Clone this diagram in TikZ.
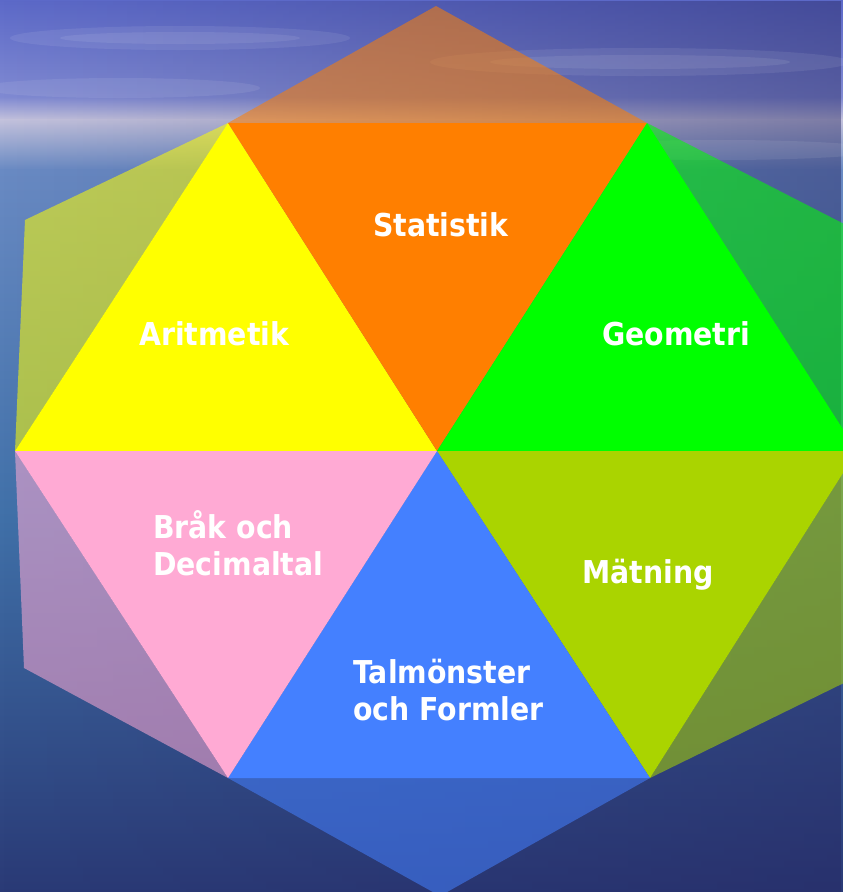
\documentclass[tikz,border=0pt]{standalone}
\usepackage{fontspec}
\usetikzlibrary{fadings}
\newfontfamily\labfont{DejaVu Sans}[FakeStretch=0.9]
\definecolor{skyA}{RGB}{92,105,200}
\definecolor{skyB}{RGB}{128,138,210}
\definecolor{hazeC}{RGB}{196,194,220}
\definecolor{seaA}{RGB}{105,138,195}
\definecolor{seaB}{RGB}{64,112,168}
\definecolor{seaC}{RGB}{42,58,118}
\definecolor{navyC}{RGB}{38,38,98}
\definecolor{orangeC}{RGB}{255,127,0}
\definecolor{yellowC}{RGB}{255,255,0}
\definecolor{greenC}{RGB}{0,255,0}
\definecolor{limeC}{RGB}{170,212,0}
\definecolor{blueC}{RGB}{68,128,255}
\definecolor{pinkC}{RGB}{255,170,212}
\begin{document}
\begin{tikzpicture}[x=1pt,y=-1pt,
  lab/.style={text=white,font=\labfont\bfseries\fontsize{31.5}{37.5}\selectfont,inner sep=0pt,align=left},
  innertri/.style={fill=#1},
  outertri/.style={fill=#1,fill opacity=0.55},
  cloud/.style={fill=white,fill opacity=0.08}]
\useasboundingbox (0,0) rectangle (843,892);
\clip (0,0) rectangle (843,892);
% background
\shade[top color=skyA, bottom color=skyB] (0,0) rectangle (843,98);
\shade[top color=skyB, bottom color=hazeC] (0,97) rectangle (843,120);
\shade[top color=hazeC, bottom color=seaA] (0,119) rectangle (843,170);
\shade[top color=seaA, bottom color=seaB] (0,169) rectangle (843,520);
\shade[top color=seaB, bottom color=seaC] (0,519) rectangle (843,892);
\fill[navyC, path fading=west, fill opacity=0.45] (0,0) rectangle (843,892);
\fill[cloud] (180,38) ellipse (170 and 12);
\fill[cloud] (180,38) ellipse (120 and 6);
\fill[cloud] (640,62) ellipse (210 and 14);
\fill[cloud] (640,62) ellipse (150 and 7);
\fill[cloud] (120,88) ellipse (140 and 10);
\fill[cloud] (720,150) ellipse (160 and 10);
% geometry
\coordinate (C) at (437,451);
\coordinate (TL) at (228,123);
\coordinate (TR) at (647,123);
\coordinate (R) at (857,451);
\coordinate (BR) at (650,778);
\coordinate (BL) at (228,778);
\coordinate (L) at (15,451);
\coordinate (O1) at (436,6);
\coordinate (O2) at (25,220);
\coordinate (O3) at (24,668);
\coordinate (O4) at (440,896);
\coordinate (O5) at (852,679);
\coordinate (O6) at (850,227);
% outer faded triangles
\fill[outertri=orangeC] (TL) -- (TR) -- (O1) -- cycle;
\fill[outertri=yellowC] (TL) -- (O2) -- (L) -- cycle;
\fill[outertri=pinkC] (L) -- (O3) -- (BL) -- cycle;
\fill[outertri=blueC] (BL) -- (O4) -- (BR) -- cycle;
\fill[outertri=limeC] (BR) -- (O5) -- (R) -- cycle;
\fill[outertri=greenC] (R) -- (O6) -- (TR) -- cycle;
% inner triangles
\fill[innertri=yellowC] (L) -- (TL) -- (C) -- cycle;
\fill[innertri=orangeC] (TL) -- (TR) -- (C) -- cycle;
\fill[innertri=greenC] (TR) -- (R) -- (C) -- cycle;
\fill[innertri=limeC] (R) -- (BR) -- (C) -- cycle;
\fill[innertri=blueC] (BR) -- (BL) -- (C) -- cycle;
\fill[innertri=pinkC] (BL) -- (L) -- (C) -- cycle;
% labels
\node[lab, anchor=base west] (stat) at (373,236) {Statistik};
\node[lab, anchor=base west] (arit) at (139,345) {Aritmetik};
\node[lab, anchor=base west] (geom) at (602,345) {Geometri};
\node[lab, anchor=west] (brak) at (153,543) {Bråk och\\Decimaltal};
\node[lab, anchor=base west] (matn) at (582,583) {Mätning};
\node[lab, anchor=west] (talm) at (353,690) {Talmönster\\och Formler};
\end{tikzpicture}
\end{document}
